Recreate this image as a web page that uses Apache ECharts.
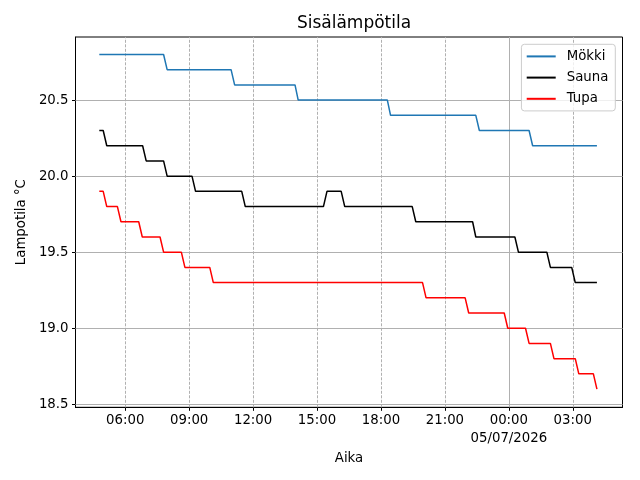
<!DOCTYPE html>
<html>
<head>
<meta charset="utf-8">
<script src="https://cdn.jsdelivr.net/npm/echarts@6/dist/echarts.min.js"></script>
<style>
  html, body { margin: 0; padding: 0; background: #fff; }
  #chart { width: 640px; height: 480px; }
</style>
</head>
<body>
<div id="chart"></div>
<script>
// values (vertices of the step lines)
const mokkiTimes = ['2026-07-04 04:47', '2026-07-04 07:48', '2026-07-04 07:58', '2026-07-04 10:58', '2026-07-04 11:08',
    '2026-07-04 13:58', '2026-07-04 14:07', '2026-07-04 18:18', '2026-07-04 18:27', '2026-07-04 22:27',
    '2026-07-04 22:37', '2026-07-05 00:57', '2026-07-05 01:07', '2026-07-05 04:08']
const mokkiValues = [20.8, 20.8, 20.7, 20.7, 20.6, 20.6, 20.5, 20.5, 20.4, 20.4, 20.3, 20.3, 20.2, 20.2]

const saunaTimes = ['2026-07-04 04:47', '2026-07-04 04:58', '2026-07-04 05:08', '2026-07-04 06:49', '2026-07-04 06:59',
    '2026-07-04 07:48', '2026-07-04 07:58', '2026-07-04 09:08', '2026-07-04 09:18', '2026-07-04 11:28',
    '2026-07-04 11:38', '2026-07-04 15:18', '2026-07-04 15:28', '2026-07-04 16:08', '2026-07-04 16:18',
    '2026-07-04 19:28', '2026-07-04 19:38', '2026-07-04 22:18', '2026-07-04 22:27', '2026-07-05 00:17',
    '2026-07-05 00:27', '2026-07-05 01:47', '2026-07-05 01:57', '2026-07-05 02:57', '2026-07-05 03:07',
    '2026-07-05 04:08']
const saunaValues = [20.3, 20.3, 20.2, 20.2, 20.1, 20.1, 20.0, 20.0, 19.9, 19.9, 19.8, 19.8, 19.9, 19.9, 19.8,
    19.8, 19.7, 19.7, 19.6, 19.6, 19.5, 19.5, 19.4, 19.4, 19.3, 19.3]

const tupaTimes = ['2026-07-04 04:47', '2026-07-04 04:58', '2026-07-04 05:08', '2026-07-04 05:38', '2026-07-04 05:48',
    '2026-07-04 06:38', '2026-07-04 06:48', '2026-07-04 07:38', '2026-07-04 07:48', '2026-07-04 08:38',
    '2026-07-04 08:48', '2026-07-04 09:58', '2026-07-04 10:08', '2026-07-04 19:57', '2026-07-04 20:07',
    '2026-07-04 21:57', '2026-07-04 22:07', '2026-07-04 23:47', '2026-07-04 23:57', '2026-07-05 00:47',
    '2026-07-05 00:57', '2026-07-05 01:57', '2026-07-05 02:07', '2026-07-05 03:07', '2026-07-05 03:17',
    '2026-07-05 03:58', '2026-07-05 04:08']
const tupaValues = [19.9, 19.9, 19.8, 19.8, 19.7, 19.7, 19.6, 19.6, 19.5, 19.5, 19.4, 19.4, 19.3, 19.3, 19.2,
    19.2, 19.1, 19.1, 19.0, 19.0, 18.9, 18.9, 18.8, 18.8, 18.7, 18.7, 18.6]

const xTicks = ['2026-07-04 06:00', '2026-07-04 09:00', '2026-07-04 12:00', '2026-07-04 15:00',
    '2026-07-04 18:00', '2026-07-04 21:00', '2026-07-05 00:00', '2026-07-05 03:00']
const dayLabel = '05/07/2026'
const yTicks = [18.5, 19.0, 19.5, 20.0, 20.5]

const FONT = 'DejaVu Sans'
const GRIDCOLOR = '#b0b0b0'

function ts(s) {
    return new Date(s.replace(' ', 'T')).getTime()
}
function pad(n) {
    return (n < 10 ? '0' : '') + n
}
function pairs(times, values) {
    return times.map((t, i) => [ts(t), values[i]])
}

const xTickValues = xTicks.map(ts)

// grid lines as mark lines, dashed for hours, solid at midnight
const gridLines = xTickValues.map(v => {
    const d = new Date(v)
    const midnight = d.getHours() === 0 && d.getMinutes() === 0
    return {
        xAxis: v,
        lineStyle: {color: GRIDCOLOR, width: 1, type: midnight ? 'solid' : [3, 1.5]}
    }
}).concat(yTicks.map(v => ({
    yAxis: v,
    lineStyle: {color: GRIDCOLOR, width: 1, type: 'solid'}
})))

const chart = echarts.init(document.getElementById('chart'), null, {renderer: 'canvas'})

const option = {
    animation: false,
    backgroundColor: '#fff',
    textStyle: {fontFamily: FONT},
    title: {
        text: 'Sisälämpötila',
        left: 349,
        textAlign: 'center',
        top: 10,
        textStyle: {fontFamily: FONT, fontSize: 17, fontWeight: 'normal', color: '#000'}
    },
    legend: {
        data: ['Mökki', 'Sauna', 'Tupa'],
        orient: 'vertical',
        right: 24.7,
        top: 44.3,
        padding: [1.5, 7, 1.5, 4.3],
        itemGap: 0,
        itemWidth: 29,
        itemHeight: 14,
        itemStyle: {opacity: 0},
        backgroundColor: 'rgba(255,255,255,0.8)',
        borderColor: '#cccccc',
        borderWidth: 1,
        borderRadius: 3,
        textStyle: {fontFamily: FONT, fontSize: 13.3, color: '#000', lineHeight: 21.2, padding: [0, 0, 0, 6]}
    },
    grid: {
        left: 75.5,
        right: 17.5,
        top: 37,
        bottom: 72.7,
        show: true,
        borderColor: '#000',
        borderWidth: 1,
        containLabel: false
    },
    xAxis: {
        type: 'value',
        min: ts('2026-07-04 03:40'),
        max: ts('2026-07-05 05:20'),
        name: 'Aika',
        nameLocation: 'middle',
        nameGap: 43,
        nameTextStyle: {fontFamily: FONT, fontSize: 13.3, color: '#000'},
        axisLine: {show: true, onZero: false, lineStyle: {color: '#000', width: 1}},
        axisTick: {show: true, inside: false, length: 3.5, customValues: xTickValues, lineStyle: {color: '#000', width: 1}},
        axisLabel: {
            customValues: xTickValues,
            margin: 4,
            fontFamily: FONT,
            fontSize: 13.3,
            color: '#000',
            lineHeight: 18,
            hideOverlap: false,
            formatter: function (value) {
                const d = new Date(value)
                const s = pad(d.getHours()) + ':' + pad(d.getMinutes())
                return (d.getHours() === 0 && d.getMinutes() === 0) ? s + '\n' + dayLabel : s
            }
        },
        splitLine: {show: false}
    },
    yAxis: {
        type: 'value',
        min: 18.48,
        max: 20.915,
        name: 'Lampotila °C',
        nameLocation: 'middle',
        nameGap: 47,
        nameTextStyle: {fontFamily: FONT, fontSize: 13.3, color: '#000'},
        axisLine: {show: true, lineStyle: {color: '#000', width: 1}},
        axisTick: {show: true, inside: false, length: 3.5, customValues: yTicks, lineStyle: {color: '#000', width: 1}},
        axisLabel: {
            customValues: yTicks,
            margin: 7,
            fontFamily: FONT,
            fontSize: 13.3,
            color: '#000',
            formatter: v => v.toFixed(1)
        },
        splitLine: {show: false}
    },
    series: [
        {
            name: 'grid',
            type: 'line',
            data: [],
            silent: true,
            z: 1,
            markLine: {
                silent: true,
                symbol: 'none',
                z: 1,
                label: {show: false},
                animation: false,
                data: gridLines
            }
        },
        {
            name: 'Mökki',
            type: 'line',
            data: pairs(mokkiTimes, mokkiValues),
            showSymbol: false,
            symbol: 'none',
            z: 3,
            lineStyle: {color: '#1f77b4', width: 1.5},
            itemStyle: {color: '#1f77b4'}
        },
        {
            name: 'Sauna',
            type: 'line',
            data: pairs(saunaTimes, saunaValues),
            showSymbol: false,
            symbol: 'none',
            z: 3,
            lineStyle: {color: '#000000', width: 1.5},
            itemStyle: {color: '#000000'}
        },
        {
            name: 'Tupa',
            type: 'line',
            data: pairs(tupaTimes, tupaValues),
            showSymbol: false,
            symbol: 'none',
            z: 3,
            lineStyle: {color: '#ff0000', width: 1.5},
            itemStyle: {color: '#ff0000'}
        }
    ]
}

chart.setOption(option)
</script>
</body>
</html>
